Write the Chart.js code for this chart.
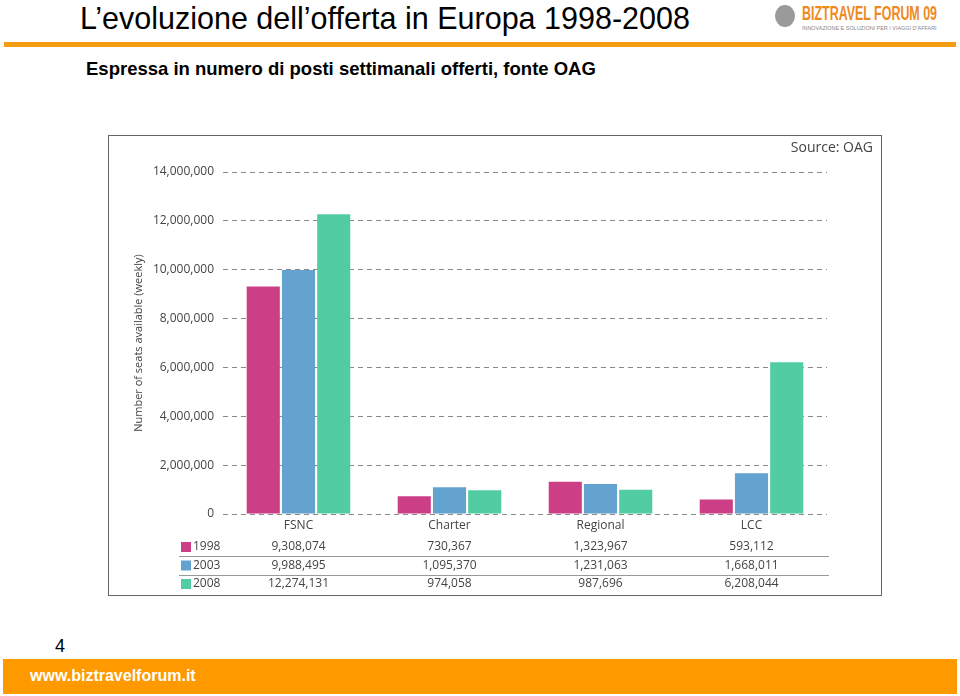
<!DOCTYPE html>
<html>
<head>
<meta charset="utf-8">
<script src="https://cdn.jsdelivr.net/npm/chart.js@4"></script>
<style>
  body { margin: 0; width: 960px; height: 696px; background: #fff; position: relative; overflow: hidden; font-family: "Liberation Sans", Arial, sans-serif; }
  .title { position: absolute; left: 80px; top: 1px; font-size: 30.5px; color: #000; white-space: nowrap; }
  .rule { position: absolute; left: 4px; top: 42px; width: 952px; height: 5px; background: #f59d12; }
  .subtitle { position: absolute; left: 86px; top: 58px; font-size: 18.5px; font-weight: bold; white-space: nowrap; }
  .logo { position: absolute; left: 775px; top: 2px; width: 165px; height: 30px; }
  .logo .big { font-family: "Liberation Sans", sans-serif; font-weight: bold; font-size: 20px; color: #ee8a1f; position: absolute; left: 27px; top: 0px; white-space: nowrap; transform-origin: 0 0; }
  .logo .small { font-size: 5px; color: #888; position: absolute; left: 27px; top: 23px; white-space: nowrap; transform-origin: 0 0; }
  .logo .icon { position: absolute; left: 0; top: 3px; width: 20px; height: 22px; border-radius: 50%; background: #9a9a9a; }
  .box { position: absolute; left: 108px; top: 135px; width: 772px; height: 459px; border: 1px solid #666; }
  .source { position: absolute; right: 8px; top: 1px; font-family: "Open Sans", sans-serif; font-size: 14px; color: #444; }
  canvas { position: absolute; left: 0; top: 0; }
  .page { position: absolute; left: 55px; top: 636px; font-size: 18px; }
  .footer { position: absolute; left: 3px; top: 659px; width: 954px; height: 35px; background: #ff9900; }
  .footer span { position: absolute; left: 27px; top: 8px; color: #fff; font-weight: bold; font-size: 16px; }
</style>
</head>
<body>
<div class="title">L’evoluzione dell’offerta in Europa 1998-2008</div>
<div class="rule"></div>
<div class="subtitle">Espressa in numero di posti settimanali offerti, fonte OAG</div>
<div class="logo"><div class="icon"></div><div class="big" id="logoBig">BIZTRAVEL FORUM 09</div><div class="small" id="logoSmall">INNOVAZIONE E SOLUZIONI PER I VIAGGI D'AFFARI</div></div>
<div class="box">
  <canvas id="chart" width="772" height="459"></canvas>
  <div class="source">Source: OAG</div>
</div>
<div class="page">4</div>
<div class="footer"><span>www.biztravelforum.it</span></div>
<script>
const categories = ["FSNC", "Charter", "Regional", "LCC"];
const years = ["1998", "2003", "2008"];
const seats1998 = [9308074, 730367, 1323967, 593112];
const seats2003 = [9988495, 1095370, 1231063, 1668011];
const seats2008 = [12274131, 974058, 987696, 6208044];
const colors = ["#cc3f86", "#64a2cf", "#52cca3"];

const fmt = (v) => v.toLocaleString("en-US");
const font = "Open Sans, sans-serif";

// squeeze the logo words into the logo width
const squeeze = (el, w) => { el.style.transform = "scaleX(" + (w / el.offsetWidth) + ")"; };
squeeze(document.getElementById("logoBig"), 135);
squeeze(document.getElementById("logoSmall"), 135);

// data table under the x axis, columns follow the x scale
const tablePlugin = {
    id: "table",
    afterDraw(chart) {
        const c = chart.ctx;
        const x = chart.scales.x;
        const rows = [seats1998, seats2003, seats2008];
        const top = x.top + 33;
        const rowH = 18.5;
        c.save();
        c.font = "12px " + font;
        c.textBaseline = "middle";
        rows.forEach((row, i) => {
            const y = top + i * rowH;
            c.fillStyle = colors[i];
            c.fillRect(72, y - 5, 10, 10);
            c.fillStyle = "#444";
            c.textAlign = "left";
            c.fillText(years[i], 84, y);
            c.textAlign = "center";
            row.forEach((v, j) => c.fillText(fmt(v), x.getPixelForValue(j), y));
            if (i < rows.length - 1) {
                c.strokeStyle = "#999";
                c.lineWidth = 1;
                c.beginPath();
                c.moveTo(70, Math.round(y + rowH / 2) + 0.5);
                c.lineTo(x.right + 2, Math.round(y + rowH / 2) + 0.5);
                c.stroke();
            }
        });
        c.restore();
    }
};

new Chart(document.getElementById("chart"), {
    type: "bar",
    data: {
        labels: categories,
        datasets: [
            { label: years[0], data: seats1998, backgroundColor: colors[0] },
            { label: years[1], data: seats2003, backgroundColor: colors[1] },
            { label: years[2], data: seats2008, backgroundColor: colors[2] },
        ],
    },
    options: {
        responsive: false,
        animation: false,
        events: [],
        categoryPercentage: 0.7,
        barPercentage: 0.94,
        layout: { padding: { top: 36, right: 54, left: 0, bottom: 0 } },
        plugins: { legend: { display: false }, tooltip: { enabled: false } },
        scales: {
            x: {
                grid: { display: false },
                border: { display: false },
                ticks: { color: "#444", font: { family: font, size: 12 }, padding: -4 },
                afterFit: (s) => { s.height = 81; },
            },
            y: {
                min: 0,
                max: 14000000,
                ticks: {
                    stepSize: 2000000,
                    color: "#444",
                    padding: 9,
                    font: { family: font, size: 12 },
                    callback: (v) => fmt(v),
                },
                grid: { color: "#8a8a8a", drawTicks: false },
                border: { display: false, dash: [5, 4] },
                title: {
                    display: true,
                    text: "Number of seats available (weekly)",
                    color: "#444",
                    font: { family: font, size: 11 },
                    padding: { top: 23, bottom: 0 },
                },
                afterFit: (s) => { s.width = 114; },
            },
        },
    },
    plugins: [tablePlugin],
});
</script>
</body>
</html>
